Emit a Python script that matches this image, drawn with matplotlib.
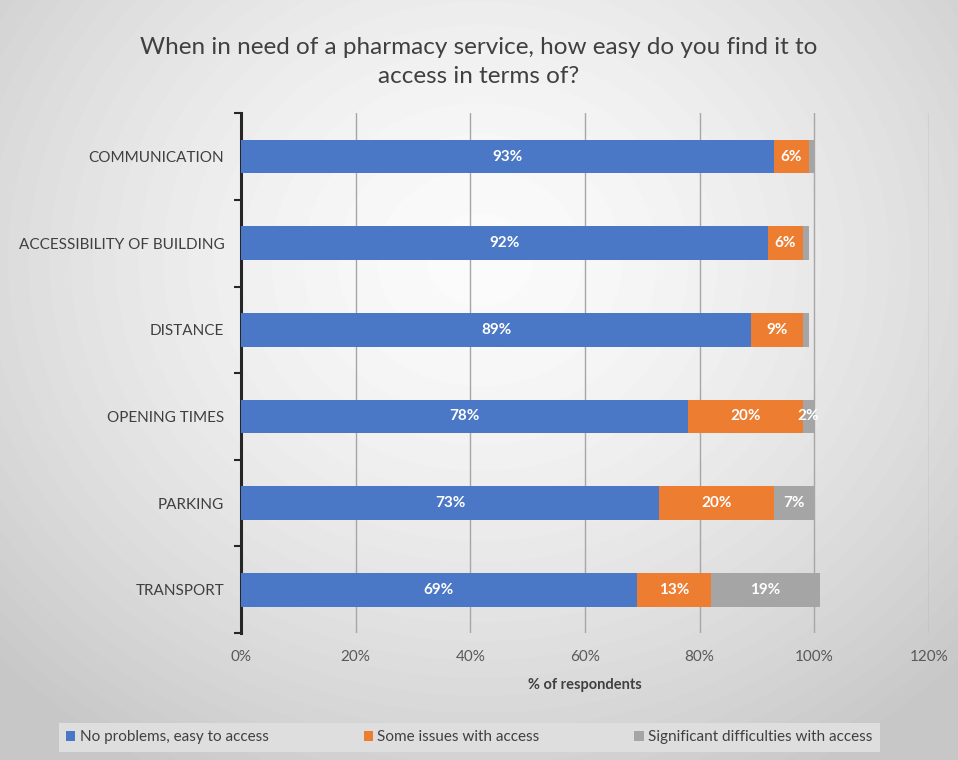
import numpy as np
import matplotlib.pyplot as plt

plt.rcParams['font.family'] = ['Lato', 'DejaVu Sans']

# Survey results (% of respondents)
categories = ['COMMUNICATION', 'ACCESSIBILITY OF BUILDING', 'DISTANCE',
              'OPENING TIMES', 'PARKING', 'TRANSPORT']
easy = [93, 92, 89, 78, 73, 69]
some_issues = [6, 6, 9, 20, 20, 13]
significant = [1, 1, 1, 2, 7, 19]
series_names = ['No problems, easy to access', 'Some issues with access',
                'Significant difficulties with access']
colors = ['#4a78c6', '#ED7D31', '#A5A5A5']

fig = plt.figure(figsize=(9.58, 7.6), dpi=100)

# soft radial background
bg = fig.add_axes([0, 0, 1, 1], zorder=-10)
yy, xx = np.mgrid[0:760, 0:958]
r = np.sqrt(((xx - 480) / 700) ** 2 + ((yy - 260) / 620) ** 2)
shade = np.clip(0.985 - 0.22 * r ** 1.5, 0.78, 1.0)
bg.imshow(shade, cmap='gray', vmin=0, vmax=1, aspect='auto', extent=[0, 1, 0, 1])
bg.axis('off')

ax = fig.add_axes([0.2516, 0.167, 0.718, 0.684])
ax.patch.set_alpha(0)

y = np.arange(len(categories))
left = np.zeros(len(categories))
for vals, name, col in zip([easy, some_issues, significant], series_names, colors):
    vals = np.array(vals, dtype=float)
    ax.barh(y, vals, left=left, height=0.39, color=col, label=name, zorder=3)
    for yi, l, v in zip(y, left, vals):
        if v >= 2:
            ax.text(l + v / 2, yi, f'{int(v)}%', ha='center', va='center',
                    color='white', fontsize=11, fontweight='bold', zorder=4)
    left += vals

ax.set_xlim(0, 120)
ax.set_ylim(len(categories) - 0.5, -0.5)
ax.set_xticks(np.arange(0, 121, 20))
ax.set_xticklabels([f'{v}%' for v in range(0, 121, 20)])
ax.set_yticks(y)
ax.set_yticklabels(categories)
ax.set_yticks(np.arange(-0.5, len(categories)), minor=True)
ax.tick_params(axis='y', which='major', length=0, pad=12, labelsize=11, labelcolor='#404040')
ax.tick_params(axis='y', which='minor', length=5, width=1.5, color='#262626', direction='out')
ax.tick_params(axis='x', length=0, pad=12, labelsize=11, labelcolor='#595959')
ax.grid(axis='x', color='#a6a6a6', linewidth=1, zorder=0)
for s in ['top', 'right', 'bottom']:
    ax.spines[s].set_visible(False)
ax.spines['left'].set_linewidth(2.2)
ax.spines['left'].set_color('#262626')
ax.set_xlabel('% of respondents', fontsize=10.5, fontweight='bold', color='#404040', labelpad=10)

fig.text(0.5, 0.918, 'When in need of a pharmacy service, how easy do you find it to\naccess in terms of?',
         ha='center', va='center', fontsize=17.5, color='#404040', linespacing=1.45)

leg = ax.legend(loc='center', bbox_to_anchor=(0.49, 0.03), bbox_transform=fig.transFigure,
                ncol=3, frameon=True, fontsize=11, handlelength=0.6, handleheight=0.6,
                handletextpad=0.3, columnspacing=6.2, borderpad=0.5, fancybox=False)
leg.get_frame().set_facecolor('#dedede')
leg.get_frame().set_edgecolor('none')
leg.get_frame().set_alpha(1)
for t in leg.get_texts():
    t.set_color('#404040')

fig.savefig('out.png', dpi=100)
